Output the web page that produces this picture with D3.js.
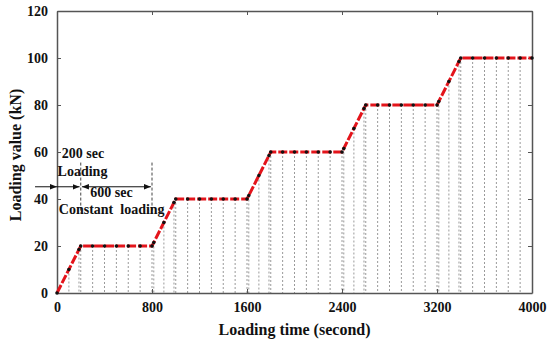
<!DOCTYPE html>
<html>
<head>
<meta charset="utf-8">
<script src="https://cdn.jsdelivr.net/npm/d3@7"></script>
<style>
    body { margin: 0; background: #fff; }
    svg text { font-family: 'Liberation Serif', 'DejaVu Serif', serif; font-weight: bold; fill: #111; }
    .tick-label text { font-size: 14px; }
    .axis-title { font-size: 16px; }
    .note { font-size: 14px; white-space: pre; }
</style>
</head>
<body>
<div id="chart"></div>
<script>
// loading schedule: time (s) and load (kN), one point every 100 s plus the ramp corners
const loadTimes = [0, 100, 185, 200, 300, 400, 500, 600, 700, 800, 815, 900, 985, 1000,
    1100, 1200, 1300, 1400, 1500, 1600, 1615, 1700, 1785, 1800,
    1900, 2000, 2100, 2200, 2300, 2400, 2415, 2500, 2585, 2600,
    2700, 2800, 2900, 3000, 3100, 3200, 3215, 3300, 3385, 3400,
    3500, 3600, 3700, 3800, 3900, 4000];
const loadValues = [0, 10, 18.5, 20, 20, 20, 20, 20, 20, 20, 21.5, 30, 38.5, 40,
    40, 40, 40, 40, 40, 40, 41.5, 50, 58.5, 60,
    60, 60, 60, 60, 60, 60, 61.5, 70, 78.5, 80,
    80, 80, 80, 80, 80, 80, 81.5, 90, 98.5, 100,
    100, 100, 100, 100, 100, 100];

const xTicks = [0, 800, 1600, 2400, 3200, 4000];
const yTicks = [0, 20, 40, 60, 80, 100, 120];

const width = 550;
const height = 345;
const margin = { top: 11, right: 18, bottom: 52, left: 57 };
const innerWidth = width - margin.left - margin.right;
const innerHeight = height - margin.top - margin.bottom;
const serif = "'Liberation Serif', 'DejaVu Serif', serif";

const svg = d3.select('#chart').append('svg')
    .attr('width', width)
    .attr('height', height)
    .attr('font-family', serif);

const defs = svg.append('defs');
['end', 'start'].forEach((kind) => {
    defs.append('marker')
        .attr('id', `arrow-${kind}`)
        .attr('viewBox', '0 0 10 10')
        .attr('refX', kind === 'end' ? 10 : 0)
        .attr('refY', 5)
        .attr('markerWidth', 7)
        .attr('markerHeight', 7)
        .attr('markerUnits', 'userSpaceOnUse')
        .attr('orient', 'auto')
        .append('path')
        .attr('d', kind === 'end' ? 'M0,1 L10,5 L0,9 Z' : 'M10,1 L0,5 L10,9 Z')
        .attr('fill', '#111');
});

const chartGroup = svg.append('g')
    .attr('transform', `translate(${margin.left},${margin.top})`);

const xScale = d3.scaleLinear().domain([0, 4000]).range([0, innerWidth]);
const yScale = d3.scaleLinear().domain([0, 120]).range([innerHeight, 0]);

const points = loadTimes.map((time, index) => ({ time, value: loadValues[index] }));

// grey drop lines from every point to the time axis
chartGroup.selectAll('.drop-line')
    .data(points.filter((point) => point.time > 0 && point.time < 4000))
    .enter()
    .append('line')
    .attr('class', 'drop-line')
    .attr('x1', (d) => xScale(d.time))
    .attr('x2', (d) => xScale(d.time))
    .attr('y1', (d) => yScale(d.value))
    .attr('y2', innerHeight)
    .attr('stroke', '#9a9a9a')
    .attr('stroke-width', 1)
    .attr('stroke-dasharray', '2,2');

const axisColor = '#555';
const styleAxis = (group) => {
    group.attr('font-family', null);
    group.select('.domain').attr('stroke', axisColor).attr('stroke-width', 1.5);
    group.selectAll('line').attr('stroke', axisColor);
    group.selectAll('text').style('font-family', serif);
};

chartGroup.append('g')
    .attr('class', 'tick-label')
    .attr('transform', `translate(0,${innerHeight})`)
    .call(d3.axisBottom(xScale).tickValues(xTicks).tickFormat(d3.format('d')).tickSizeInner(-4).tickSizeOuter(0).tickPadding(9))
    .call(styleAxis);

chartGroup.append('g')
    .attr('class', 'tick-label')
    .call(d3.axisLeft(yScale).tickValues(yTicks).tickFormat(d3.format('d')).tickSizeInner(-4).tickSizeOuter(0).tickPadding(9))
    .call(styleAxis);

// mirrored ticks on the top and right edges, no labels
chartGroup.append('g')
    .call(d3.axisTop(xScale).tickValues(xTicks).tickSizeInner(-4).tickSizeOuter(0))
    .call(styleAxis)
    .call((group) => group.selectAll('text').remove());

chartGroup.append('g')
    .attr('transform', `translate(${innerWidth},0)`)
    .call(d3.axisRight(yScale).tickValues(yTicks).tickSizeInner(-4).tickSizeOuter(0))
    .call(styleAxis)
    .call((group) => group.selectAll('text').remove());

// loading path
const line = d3.line()
    .x((d) => xScale(d.time))
    .y((d) => yScale(d.value));

chartGroup.append('path')
    .datum(points)
    .attr('fill', 'none')
    .attr('stroke', '#e4141b')
    .attr('stroke-width', 3)
    .attr('stroke-dasharray', '9,2')
    .attr('d', line);

chartGroup.selectAll('.load-point')
    .data(points)
    .enter()
    .append('circle')
    .attr('class', 'load-point')
    .attr('cx', (d) => xScale(d.time))
    .attr('cy', (d) => yScale(d.value))
    .attr('r', 1.8)
    .attr('fill', '#111');

// annotation: loading / constant loading phases
[200, 800].forEach((time) => {
    chartGroup.append('line')
        .attr('x1', xScale(time))
        .attr('x2', xScale(time))
        .attr('y1', yScale(55.5))
        .attr('y2', yScale(34))
        .attr('stroke', '#444')
        .attr('stroke-width', 1)
        .attr('stroke-dasharray', '3,2');
});

const arrowY = yScale(45.2);
chartGroup.append('line')
    .attr('x1', xScale(-185))
    .attr('x2', xScale(0))
    .attr('y1', arrowY)
    .attr('y2', arrowY)
    .attr('stroke', '#111')
    .attr('marker-end', 'url(#arrow-end)');

chartGroup.append('line')
    .attr('x1', xScale(0))
    .attr('x2', xScale(190))
    .attr('y1', arrowY)
    .attr('y2', arrowY)
    .attr('stroke', '#111')
    .attr('marker-end', 'url(#arrow-end)');

chartGroup.append('line')
    .attr('x1', xScale(210))
    .attr('x2', xScale(790))
    .attr('y1', arrowY)
    .attr('y2', arrowY)
    .attr('stroke', '#111')
    .attr('marker-start', 'url(#arrow-start)')
    .attr('marker-end', 'url(#arrow-end)');

const notes = [
    { text: '200 sec', time: 40, value: 57.3 },
    { text: 'Loading', time: 5, value: 49.8 },
    { text: '600 sec', time: 280, value: 40.8 },
    { text: 'Constant  loading', time: 15, value: 33.5 }
];

chartGroup.selectAll('.note')
    .data(notes)
    .enter()
    .append('text')
    .attr('class', 'note')
    .attr('x', (d) => xScale(d.time))
    .attr('y', (d) => yScale(d.value))
    .style('font-family', serif)
    .text((d) => d.text);

svg.append('text')
    .attr('class', 'axis-title')
    .attr('x', margin.left + innerWidth / 2)
    .attr('y', 335)
    .attr('text-anchor', 'middle')
    .style('font-family', serif)
    .text('Loading time (second)');

svg.append('text')
    .attr('class', 'axis-title')
    .attr('transform', 'rotate(-90)')
    .attr('x', -155)
    .attr('y', 21)
    .attr('text-anchor', 'middle')
    .style('font-family', serif)
    .text('Loading value (kN)');
</script>
</body>
</html>
